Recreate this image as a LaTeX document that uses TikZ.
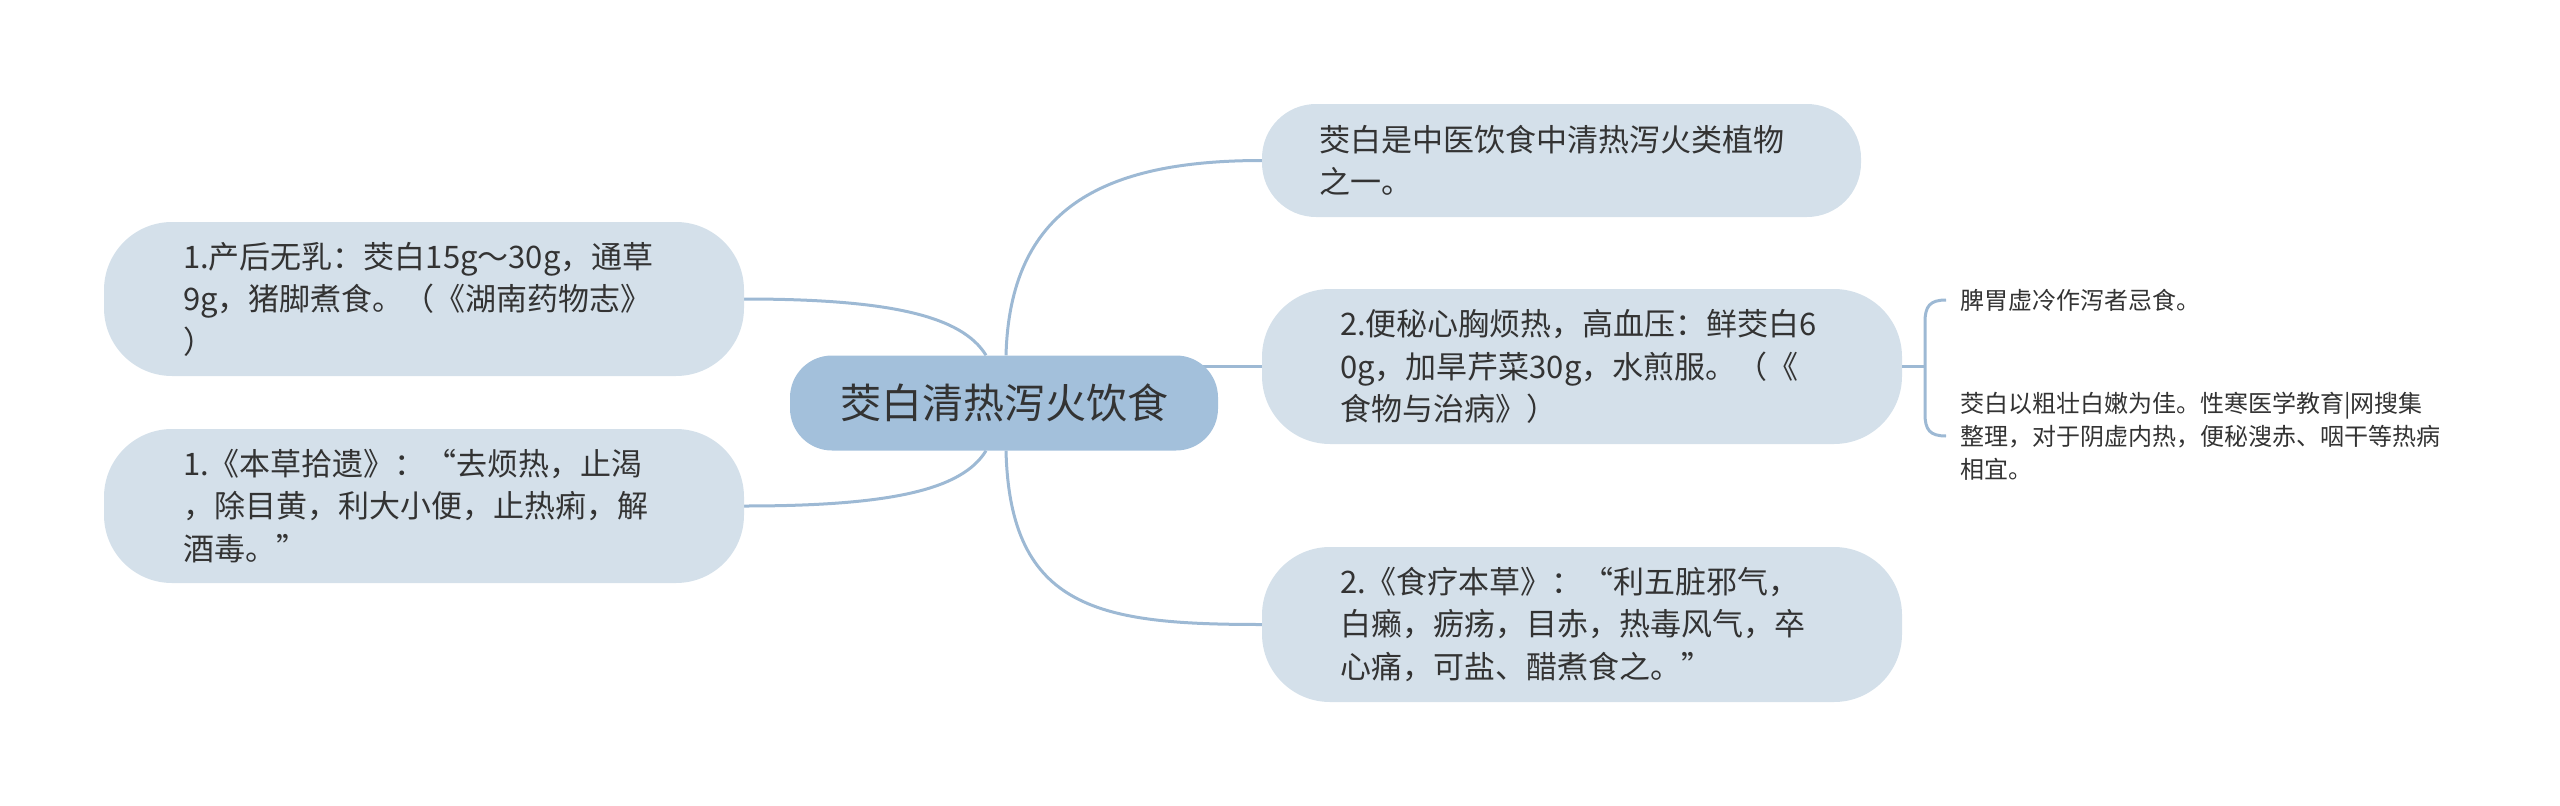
\documentclass[tikz,border=0pt]{standalone}
\usepackage{fontspec}
\setmainfont{Noto Sans CJK SC}
\usetikzlibrary{backgrounds}
\definecolor{nodefill}{HTML}{D4E0EA}
\definecolor{centerfill}{HTML}{A3C0DB}
\definecolor{linecol}{HTML}{9DB9D4}
\definecolor{txt}{HTML}{333333}
\tikzset{
  x=1pt, y=-1pt,
  conn/.style={draw=linecol, line width=3pt},
  leaf/.style={fill=nodefill, draw=none, rounded corners=68pt, text=txt,
    font=\fontsize{31}{42.5}\selectfont, align=left, inner ysep=0pt},
  leafL/.style={leaf, inner xsep=79pt, text width=482pt, minimum height=154pt},
  leafR/.style={leaf, inner xsep=78pt, text width=484pt, minimum height=155pt},
  leafR1/.style={leaf, rounded corners=54pt, inner xsep=57pt, text width=485pt, minimum height=113pt},
  centre/.style={fill=centerfill, draw=none, rounded corners=42pt, text=txt,
    font=\fontsize{41}{48}\selectfont, minimum width=428pt, minimum height=95pt, inner sep=0pt},
  small/.style={text=txt, font=\fontsize{24}{33}\selectfont, align=left, inner sep=0pt, anchor=west}
}
\begin{document}
\begin{tikzpicture}
\useasboundingbox (0,0) rectangle (2560,806);
\node[centre] (C) at (1004,403) {茭白清热泻火饮食};
\node[leafL] (L1) at (424,299) {1.产后无乳：茭白15g～30g，通草\\9g，猪脚煮食。（《湖南药物志》\\）};
\node[leafL] (L2) at (424,506) {1.《本草拾遗》：“去烦热，止渴\\，除目黄，利大小便，止热痢，解\\酒毒。”};
\node[leafR1] (R1) at (1561.5,160.5) {茭白是中医饮食中清热泻火类植物\\之一。};
\node[leafR] (R2) at (1582,366.5) {2.便秘心胸烦热，高血压：鲜茭白6\\0g，加旱芹菜30g，水煎服。（《\\食物与治病》）};
\node[leafR] (R3) at (1582,624.5) {2.《食疗本草》：“利五脏邪气，\\白癞，疬疡，目赤，热毒风气，卒\\心痛，可盐、醋煮食之。”};
\node[small] (S1) at (1960,300) {脾胃虚冷作泻者忌食。};
\node[small] (S2) at (1960,436) {茭白以粗壮白嫩为佳。性寒医学教育|网搜集\\整理，对于阴虚内热，便秘溲赤、咽干等热病\\相宜。};
\coordinate (B) at (1925,366.5);
\coordinate (B1) at (1946,300);
\coordinate (B2) at (1946,436);
\begin{scope}[on background layer]
\draw[conn] ([xshift=-18pt]C.north) .. controls (962,316) and (890,299) .. (L1.east);
\draw[conn] ([xshift=-18pt]C.south) .. controls (962,490) and (890,506) .. (L2.east);
\draw[conn] ([xshift=2pt]C.north) .. controls (1010,210) and (1100,160.5) .. (R1.west);
\draw[conn] ([xshift=2pt]C.south) .. controls (1010,610) and (1100,624.5) .. (R3.west);
\draw[conn] (C.center |- R2.west) -- (R2.west);
\end{scope}
\draw[conn] (R2.east) -- (B);
\draw[conn] (B1) .. controls (1930,300) and (B |- 0,306) .. (B |- 0,322) -- (B |- 0,414) .. controls (B |- 0,430) and (1930,436) .. (B2);
\end{tikzpicture}
\end{document}
